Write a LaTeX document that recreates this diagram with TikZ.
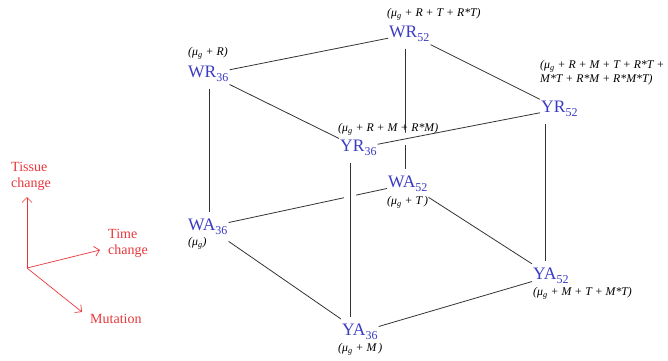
\documentclass[tikz,border=0pt]{standalone}
\usepackage{fontspec}
\setmainfont{Liberation Serif}
\usepackage{tikz}
\usetikzlibrary{arrows.meta,positioning,backgrounds}
\definecolor{grpblue}{HTML}{3B3BC4}
\definecolor{axred}{HTML}{E8363B}
\definecolor{edgegray}{HTML}{333333}
\newcommand{\grpsub}[1]{\raisebox{-3.5pt}{\fontsize{12}{12}\selectfont #1}}
\tikzset{
  grp/.style={text=grpblue,font=\fontsize{17.5}{19}\selectfont,anchor=west,
              inner xsep=1pt,inner ysep=7pt},
  lab/.style={font=\fontsize{11.8}{14}\selectfont\itshape,anchor=west,inner sep=0pt,
              align=left},
  edge/.style={edgegray,line width=0.8pt},
  front/.style={edge,preaction={draw=white,line width=12pt}},
  axis/.style={axred,line width=0.7pt,-{Straight Barb[length=5pt,width=10pt]}},
  axlab/.style={text=axred,font=\fontsize{14}{16}\selectfont,align=left,inner sep=0pt},
}
\begin{document}
\begin{tikzpicture}[x=1pt,y=-1pt]
  \useasboundingbox (0,0) rectangle (668,360);
  % cube corners
  \node[grp] (wr36) at (187,74)  {WR\grpsub{36}};
  \node[grp] (wr52) at (388,34)  {WR\grpsub{52}};
  \node[grp] (yr36) at (339,148) {YR\grpsub{36}};
  \node[grp] (yr52) at (540,109) {YR\grpsub{52}};
  \node[grp] (wa36) at (187,227) {WA\grpsub{36}};
  \node[grp] (wa52) at (387,184) {WA\grpsub{52}};
  \node[grp] (ya36) at (341,332) {YA\grpsub{36}};
  \node[grp] (ya52) at (532,276) {YA\grpsub{52}};
  % model terms
  \node[lab] (wr36t) at (188,53)  {(μ\textsubscript{g} + R)};
  \node[lab] (wr52t) at (387,14)  {(μ\textsubscript{g} + R + T + R*T)};
  \node[lab] (yr36t) at (338,129) {(μ\textsubscript{g} + R + M + R*M)};
  \node[lab,anchor=north west] (yr52t) at (540,60)
     {(μ\textsubscript{g} + R + M + T + R*T +\\M*T + R*M + R*M*T)};
  \node[lab] (wa36t) at (188,243) {(μ\textsubscript{g})};
  \node[lab] (wa52t) at (387,202) {(μ\textsubscript{g} + T\,)};
  \node[lab] (ya36t) at (338,349) {(μ\textsubscript{g} + M\,)};
  \node[lab] (ya52t) at (533,293) {(μ\textsubscript{g} + M + T + M*T)};
  % edges, hidden ones first
  \begin{scope}[on background layer]
    \draw[edge] (wr36) -- (wr52);
    \draw[edge] (wr36) -- (yr36);
    \draw[edge] (wr52) -- (yr52);
    \draw[edge] (wa36) -- (wa52);
    \draw[edge] (wa36) -- (ya36);
    \draw[edge] (wa52) -- (ya52);
    \draw[edge] (ya36) -- (ya52);
    \draw[edge] ([xshift=22pt]wr36.south west) -- ([xshift=22pt]wa36.north -| wr36.south west);
    \draw[edge] ([xshift=17pt]wr52.south west) -- ([xshift=17pt]wa52.north -| wr52.south west);
    \draw[edge] ([xshift=5pt]yr52.south west) -- ([xshift=5pt]ya52.north -| yr52.south west);
    \draw[front] (yr36) -- (yr52);
    \draw[front] ([xshift=11pt]yr36.south west) -- ([xshift=11pt]ya36.north -| yr36.south west);
  \end{scope}
  % axes
  \coordinate (orig) at (27,268);
  \coordinate (tiss) at (27,197);
  \coordinate (time) at (100,250);
  \coordinate (mut)  at (82,312);
  \draw[axis] (orig) -- (tiss);
  \draw[axis] (orig) -- (time);
  \draw[axis] (orig) -- (mut);
  \node[axlab,anchor=south west] (tisslab) at (11,191) {Tissue\\change};
  \node[axlab,anchor=west] (timelab) at (108,243) {Time\\change};
  \node[axlab,anchor=west] (mutlab) at (90,319) {Mutation};
\end{tikzpicture}
\end{document}
